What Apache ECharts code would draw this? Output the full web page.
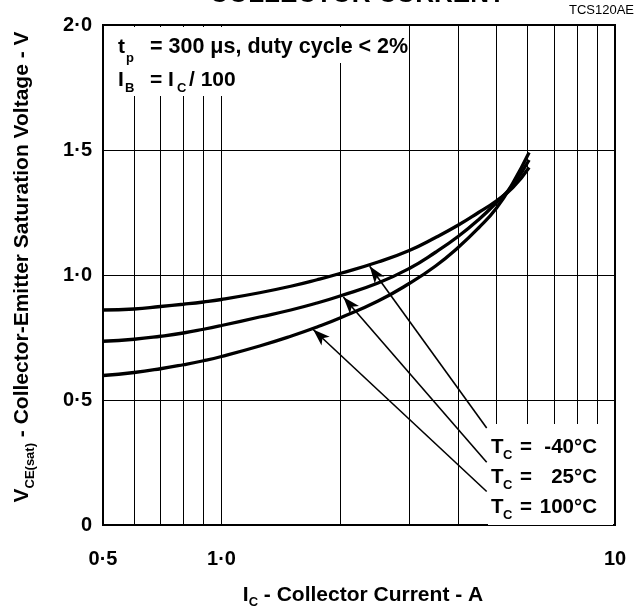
<!DOCTYPE html>
<html>
<head>
<meta charset="utf-8">
<script src="https://cdn.jsdelivr.net/npm/echarts@6/dist/echarts.min.js"></script>
<style>html,body{margin:0;padding:0;background:#fff}#c{width:640px;height:614px}</style>
</head>
<body>
<div id="c"></div>
<script>
// Collector current (A)
const currentA = [0.5, 0.6, 0.7, 0.8, 0.9, 1.0, 1.25, 1.5, 1.75, 2, 2.5, 3, 3.5, 4, 4.5, 5, 5.5, 6.05];
// VCE(sat) (V) per case temperature
const vMinus40 = [0.860, 0.864, 0.874, 0.883, 0.892, 0.902, 0.929, 0.955, 0.981, 1.006, 1.052, 1.098, 1.150, 1.200, 1.250, 1.297, 1.350, 1.430];
const v25      = [0.735, 0.743, 0.755, 0.768, 0.783, 0.798, 0.832, 0.860, 0.888, 0.916, 0.968, 1.026, 1.091, 1.155, 1.221, 1.290, 1.360, 1.460];
const v100     = [0.598, 0.610, 0.625, 0.641, 0.657, 0.674, 0.716, 0.755, 0.792, 0.828, 0.896, 0.966, 1.036, 1.111, 1.188, 1.268, 1.368, 1.490];
const seriesNames = ['-40°C', '25°C', '100°C'];
// Tick labels
const xTickValues = [0.5, 1, 10];
const xTickLabels = ['0·5', '1·0', '10'];
const yTickValues = [0, 0.5, 1, 1.5, 2];
const yTickLabels = ['0', '0·5', '1·0', '1·5', '2·0'];
// Minor vertical grid lines of the log axis
const xGridValues = [0.6, 0.7, 0.8, 0.9, 1, 2, 3, 4, 5, 6, 7, 8, 9];
// Arrow annotations: from label (start) to curve (end) [A, V]
const arrowFrom = [[4.72, 0.388], [4.72, 0.251], [4.72, 0.134]];
const arrowTo   = [[2.38, 1.035], [2.04, 0.912], [1.71, 0.782]];

const FONT = '"Liberation Sans", Arial, Helvetica, sans-serif';
const chart = echarts.init(document.getElementById('c'), null, {renderer: 'canvas'});

function pair(a, b) { return a.map((v, i) => [v, b[i]]); }
const curves = [vMinus40, v25, v100];

const series = curves.map((vals, i) => ({
  name: seriesNames[i],
  type: 'line',
  data: pair(currentA, vals),
  smooth: 0.5,
  symbol: 'none',
  lineStyle: {color: '#000', width: 3.3},
  z: 5,
  silent: true
}));

series.push({
  type: 'line',
  data: [],
  silent: true,
  z: 3,
  markLine: {
    silent: true,
    symbol: 'none',
    label: {show: false},
    lineStyle: {color: '#000', width: 1, type: 'solid'},
    data: xGridValues.map(v => ({xAxis: v}))
  }
});

series.push({
  type: 'line',
  data: [],
  silent: true,
  z: 6,
  markLine: {
    silent: true,
    label: {show: false},
    lineStyle: {color: '#000', width: 1.6, type: 'solid'},
    data: arrowFrom.map((f, i) => [
      {coord: f, symbol: 'none'},
      {coord: arrowTo[i], symbol: 'arrow', symbolSize: [9, 17]}
    ])
  }
});

const bold = (size) => ({fontFamily: FONT, fontWeight: 'bold', fontSize: size, fill: '#000'});
const graphics = [
  // white backing boxes behind annotations
  {type: 'rect', shape: {x: 105, y: 27, width: 301, height: 36}, style: {fill: '#fff'}, z: 50},
  {type: 'rect', shape: {x: 105, y: 62, width: 135, height: 34}, style: {fill: '#fff'}, z: 50},
  {type: 'rect', shape: {x: 488, y: 424, width: 125, height: 101}, style: {fill: '#fff'}, z: 50},
  // title remnant & figure id
  {type: 'text', x: 357, y: -18, z: 60, style: Object.assign(bold(26), {text: 'COLLECTOR CURRENT', align: 'center', verticalAlign: 'top'})},
  {type: 'text', x: 634, y: 10, z: 60, style: {text: 'TCS120AE', fontFamily: FONT, fontSize: 13, fill: '#000', align: 'right', verticalAlign: 'middle'}},
  // conditions
  {type: 'text', x: 118, y: 47, z: 60, style: Object.assign(bold(21), {text: 't', verticalAlign: 'middle'})},
  {type: 'text', x: 126, y: 58, z: 60, style: Object.assign(bold(13), {text: 'p', verticalAlign: 'middle'})},
  {type: 'text', x: 150, y: 47, z: 60, style: Object.assign(bold(21.5), {text: '= 300 μs, duty cycle < 2%', verticalAlign: 'middle'})},
  {type: 'text', x: 118, y: 80, z: 60, style: Object.assign(bold(21), {text: 'I', verticalAlign: 'middle'})},
  {type: 'text', x: 125, y: 88, z: 60, style: Object.assign(bold(13), {text: 'B', verticalAlign: 'middle'})},
  {type: 'text', x: 150, y: 80, z: 60, style: Object.assign(bold(21), {text: '= I', verticalAlign: 'middle'})},
  {type: 'text', x: 177, y: 88, z: 60, style: Object.assign(bold(13), {text: 'C', verticalAlign: 'middle'})},
  {type: 'text', x: 189, y: 80, z: 60, style: Object.assign(bold(21), {text: '/ 100', verticalAlign: 'middle'})},
  // y axis title (rotated)
  {type: 'text', x: 22, y: 267, rotation: Math.PI / 2, z: 60, style: {
    text: '{m|V}{s|CE(sat)}{m| - Collector-Emitter Saturation Voltage - V}',
    align: 'center', verticalAlign: 'middle',
    rich: {
      m: {fontFamily: FONT, fontWeight: 'bold', fontSize: 21, fill: '#000', lineHeight: 30},
      s: {fontFamily: FONT, fontWeight: 'bold', fontSize: 13, fill: '#000', lineHeight: 12, verticalAlign: 'bottom'}
    }
  }}
];
const rowY = [447, 477, 507];
seriesNames.forEach((nm, i) => {
  graphics.push({type: 'text', x: 491, y: rowY[i], z: 60, style: Object.assign(bold(20.5), {text: 'T', verticalAlign: 'middle'})});
  graphics.push({type: 'text', x: 503, y: rowY[i] + 8, z: 60, style: Object.assign(bold(13), {text: 'C', verticalAlign: 'middle'})});
  graphics.push({type: 'text', x: 520, y: rowY[i], z: 60, style: Object.assign(bold(20.5), {text: '=', verticalAlign: 'middle'})});
  graphics.push({type: 'text', x: 597, y: rowY[i], z: 60, style: Object.assign(bold(20.5), {text: nm, align: 'right', verticalAlign: 'middle'})});
});

chart.setOption({
  animation: false,
  backgroundColor: '#fff',
  grid: {left: 103, right: 25, top: 25, bottom: 77, show: true, borderColor: '#000', borderWidth: 2, backgroundColor: 'transparent'},
  xAxis: {
    type: 'log', logBase: 10, min: 0.5, max: 10,
    axisLine: {show: true, lineStyle: {color: '#000', width: 2}},
    axisTick: {show: false},
    splitLine: {show: false},
    minorTick: {show: false},
    axisLabel: {
      color: '#000', fontFamily: FONT, fontWeight: 'bold', fontSize: 20, margin: 24,
      showMinLabel: true, showMaxLabel: true,
      formatter: v => { const k = xTickValues.findIndex(t => Math.abs(t - v) < 1e-6); return k >= 0 ? xTickLabels[k] : ''; }
    },
    name: '{m|I}{s|C}{m| - Collector Current - A}',
    nameLocation: 'middle', nameGap: 56,
    nameTextStyle: {
      padding: [0, 0, 0, 8],
      rich: {
        m: {fontFamily: FONT, fontWeight: 'bold', fontSize: 21, color: '#000', lineHeight: 28},
        s: {fontFamily: FONT, fontWeight: 'bold', fontSize: 13, color: '#000', lineHeight: 12, verticalAlign: 'bottom'}
      }
    }
  },
  yAxis: {
    type: 'value', min: 0, max: 2, interval: 0.5,
    axisLine: {show: true, lineStyle: {color: '#000', width: 2}},
    axisTick: {show: false},
    splitLine: {show: true, lineStyle: {color: '#000', width: 1}},
    axisLabel: {
      color: '#000', fontFamily: FONT, fontWeight: 'bold', fontSize: 20, margin: 11,
      formatter: v => { const k = yTickValues.findIndex(t => Math.abs(t - v) < 1e-6); return k >= 0 ? yTickLabels[k] : ''; }
    }
  },
  graphic: graphics,
  series: series
});
</script>
</body>
</html>
